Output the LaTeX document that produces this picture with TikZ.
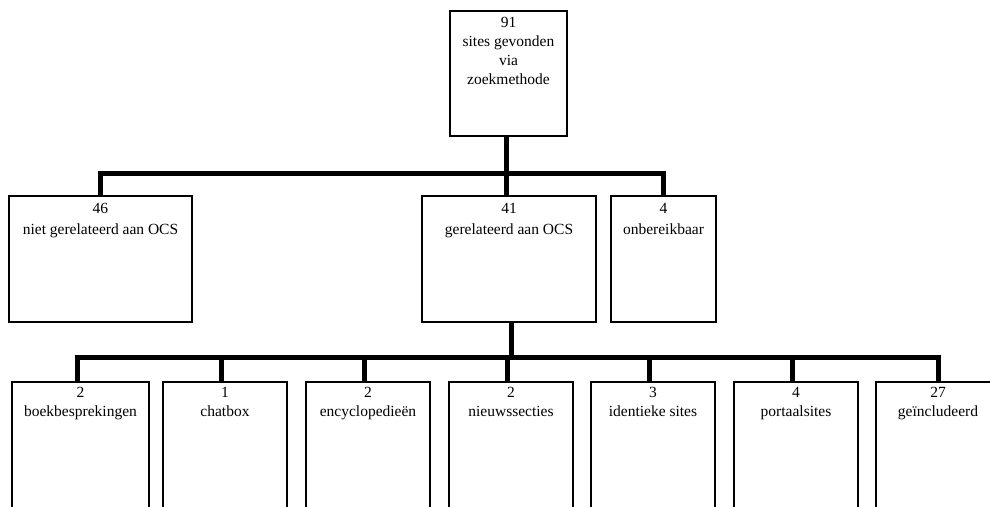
\documentclass[tikz,border=0pt]{standalone}
\usepackage{fontspec}
\setmainfont{Liberation Serif}
\begin{document}
\begin{tikzpicture}[x=1pt,y=-1pt,
  box/.style={draw, line width=1.3pt, rectangle, inner sep=0pt},
  bar/.style={line width=5pt, line cap=butt, line join=miter},
  lbl/.style={anchor=north, inner sep=0pt, align=center,
    font=\fontsize{15.5}{20}\selectfont}]
\useasboundingbox (0,0) rectangle (990,506);
\clip (0,0) rectangle (990,506);
% level 0
\node[box, minimum width=117pt, minimum height=125pt] (top) at (508.5,73.5) {};
\node[lbl, font=\fontsize{15.5}{19}\selectfont] (topt) at ([yshift=-4pt]top.north) {\strut 91\\sites gevonden\\via\\zoekmethode};
% level 1
\node[box, minimum width=183pt, minimum height=126pt] (a) at (100.5,259) {};
\node[box, minimum width=174pt, minimum height=126pt] (b) at (509,259) {};
\node[box, minimum width=105pt, minimum height=126pt] (c) at (663.5,259) {};
\tikzset{l1/.style={lbl, font=\fontsize{15.5}{21}\selectfont}}
\node[l1] (at) at ([yshift=-3pt]a.north) {\strut 46\\niet gerelateerd aan OCS};
\node[l1] (bt) at ([yshift=-3pt]b.north) {\strut 41\\gerelateerd aan OCS};
\node[l1] (ct) at ([yshift=-3pt]c.north) {\strut 4\\onbereikbaar};
% level 2
\foreach \n/\x/\w in {b1/80.5/137, b2/225/124, b3/368/124, b4/511/124, b5/653/124, b6/796/124, b7/938/124}
  \node[box, minimum width=\w pt, minimum height=150pt] (\n) at (\x,457) {};
\tikzset{l2/.style={lbl, font=\fontsize{15.5}{19.5}\selectfont}}
\node[l2] (b1t) at ([yshift=-2pt]b1.north) {\strut 2\\boekbesprekingen};
\node[l2] (b2t) at ([yshift=-2pt]b2.north) {\strut 1\\chatbox};
\node[l2] (b3t) at ([yshift=-2pt]b3.north) {\strut 2\\encyclopedieën};
\node[l2] (b4t) at ([yshift=-2pt]b4.north) {\strut 2\\nieuwssecties};
\node[l2] (b5t) at ([yshift=-2pt]b5.north) {\strut 3\\identieke sites};
\node[l2] (b6t) at ([yshift=-2pt]b6.north) {\strut 4\\portaalsites};
\node[l2] (b7t) at ([yshift=-2pt]b7.north) {\strut 27\\geïncludeerd};
% connectors level 0 -> 1
\coordinate (j1) at (508.5,173);
\draw[bar] ([xshift=-2pt]top.south) -- ([xshift=-2pt]top.south |- j1);
\draw[bar] (a.north) |- (c.north |- j1) -- (c.north);
\draw[bar] ([xshift=-3pt]b.north) -- ([xshift=-3pt]b.north |- j1);
% connectors level 1 -> 2
\coordinate (j2) at (511,357);
\draw[bar] ([xshift=2pt]b.south) -- ([xshift=2pt]b.south |- j2);
\draw[bar] ([xshift=-3pt]b1.north) |- (b7.north |- j2) -- (b7.north);
\foreach \n in {b2,b3,b4,b5,b6}
  \draw[bar] ([xshift=-4pt]\n.north) -- ([xshift=-4pt]\n.north |- j2);
\end{tikzpicture}
\end{document}
